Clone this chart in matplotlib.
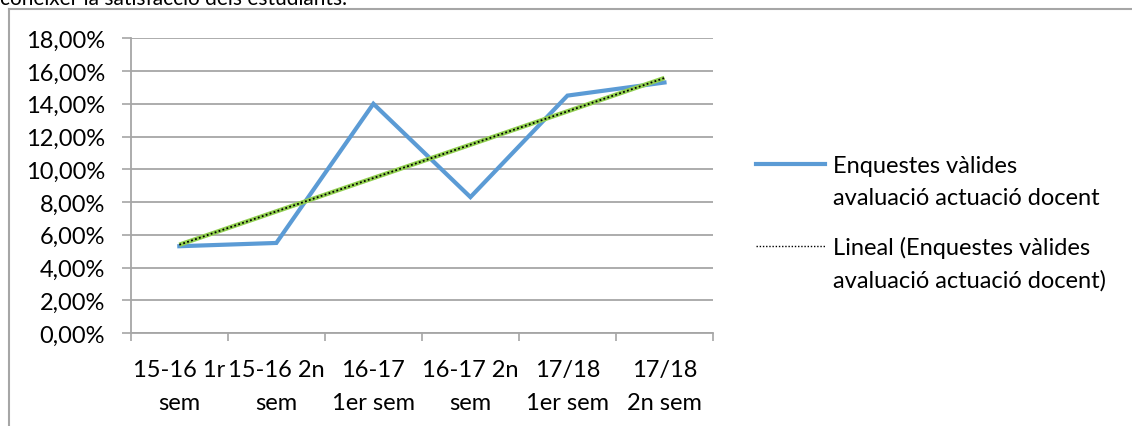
import numpy as np
import matplotlib
matplotlib.use("Agg")
import matplotlib.pyplot as plt
from matplotlib.lines import Line2D
from matplotlib.ticker import FuncFormatter

categories = ["15-16 1r\nsem", "15-16 2n\nsem", "16-17\n1er sem", "16-17 2n\nsem", "17/18\n1er sem", "17/18\n2n sem"]
values = [5.3, 5.5, 14.0, 8.3, 14.5, 15.3]
series_label = ["Enquestes vàlides", "avaluació actuació docent"]
trend_label = ["Lineal (Enquestes vàlides", "avaluació actuació docent)"]
caption = "conèixer la satisfacció dels estudiants."
yticks = [0, 2, 4, 6, 8, 10, 12, 14, 16, 18]

plt.rcParams['font.family'] = ['Lato', 'DejaVu Sans']
FS = 17
W, H = 1132, 427
fig = plt.figure(figsize=(W / 100, H / 100), dpi=100)


def fx(px):
    return px / W


def fy(py):
    return 1 - py / H


# outer frame (left and top edges visible)
fig.add_artist(Line2D([fx(8.5), fx(8.5)], [0, fy(9.5)], color="#a6a6a6", lw=1.5))
fig.add_artist(Line2D([fx(8.5), 1], [fy(9.5), fy(9.5)], color="#a6a6a6", lw=1.5))
fig.text(fx(0), fy(5), caption, fontsize=15, ha="left", va="baseline", color="#000000")

ax = fig.add_axes([fx(130.8), fy(334), (713 - 130.8) / W, (334 - 39.3) / H])
x = np.arange(len(categories))
ax.plot(x, values, color="#5b9bd5", lw=3.0, solid_joinstyle="miter", zorder=3)

coef = np.polyfit(x, values, 1)
trend = np.polyval(coef, x)
ax.plot(x, trend, color="#92d050", lw=3.2, zorder=4, solid_capstyle="butt")
ax.plot(x, trend, color="black", lw=1.3, ls=(0, (1, 1.3)), zorder=5)

ax.set_xlim(-0.5, len(categories) - 0.5)
ax.set_ylim(0, 18)
ax.set_yticks(yticks)
ax.yaxis.set_major_formatter(FuncFormatter(lambda v, p: f"{v:.2f}%".replace(".", ",")))
ax.set_xticks(x)
ax.set_xticklabels(categories, fontsize=FS, linespacing=1.68)
ax.set_xticks(np.arange(-0.5, len(categories)), minor=True)
ax.tick_params(axis="x", which="major", length=0, pad=19)
ax.tick_params(axis="x", which="minor", length=6, color="#a6a6a6", width=1.2)
ax.tick_params(axis="y", length=6.5, color="#a6a6a6", width=1.2, pad=12, labelsize=FS)
ax.grid(axis="y", color="#a6a6a6", lw=1.3)
ax.set_axisbelow(True)
for s in ["top", "right"]:
    ax.spines[s].set_visible(False)
for s in ["left", "bottom"]:
    ax.spines[s].set_color("#a6a6a6")
    ax.spines[s].set_linewidth(1.3)

# legend, drawn manually so the key sits on the first text line
fig.add_artist(Line2D([fx(756), fx(825)], [fy(165), fy(165)], color="#5b9bd5", lw=3.0))
fig.add_artist(Line2D([fx(756), fx(825)], [fy(247), fy(247)], color="black", lw=1.0, ls=(0, (1, 1.3))))
for i, line in enumerate(series_label):
    fig.text(fx(833), fy(173 + 32.5 * i), line, fontsize=FS, ha="left", va="baseline")
for i, line in enumerate(trend_label):
    fig.text(fx(833), fy(255 + 32.5 * i), line, fontsize=FS, ha="left", va="baseline")

fig.savefig("out.png", dpi=100)
